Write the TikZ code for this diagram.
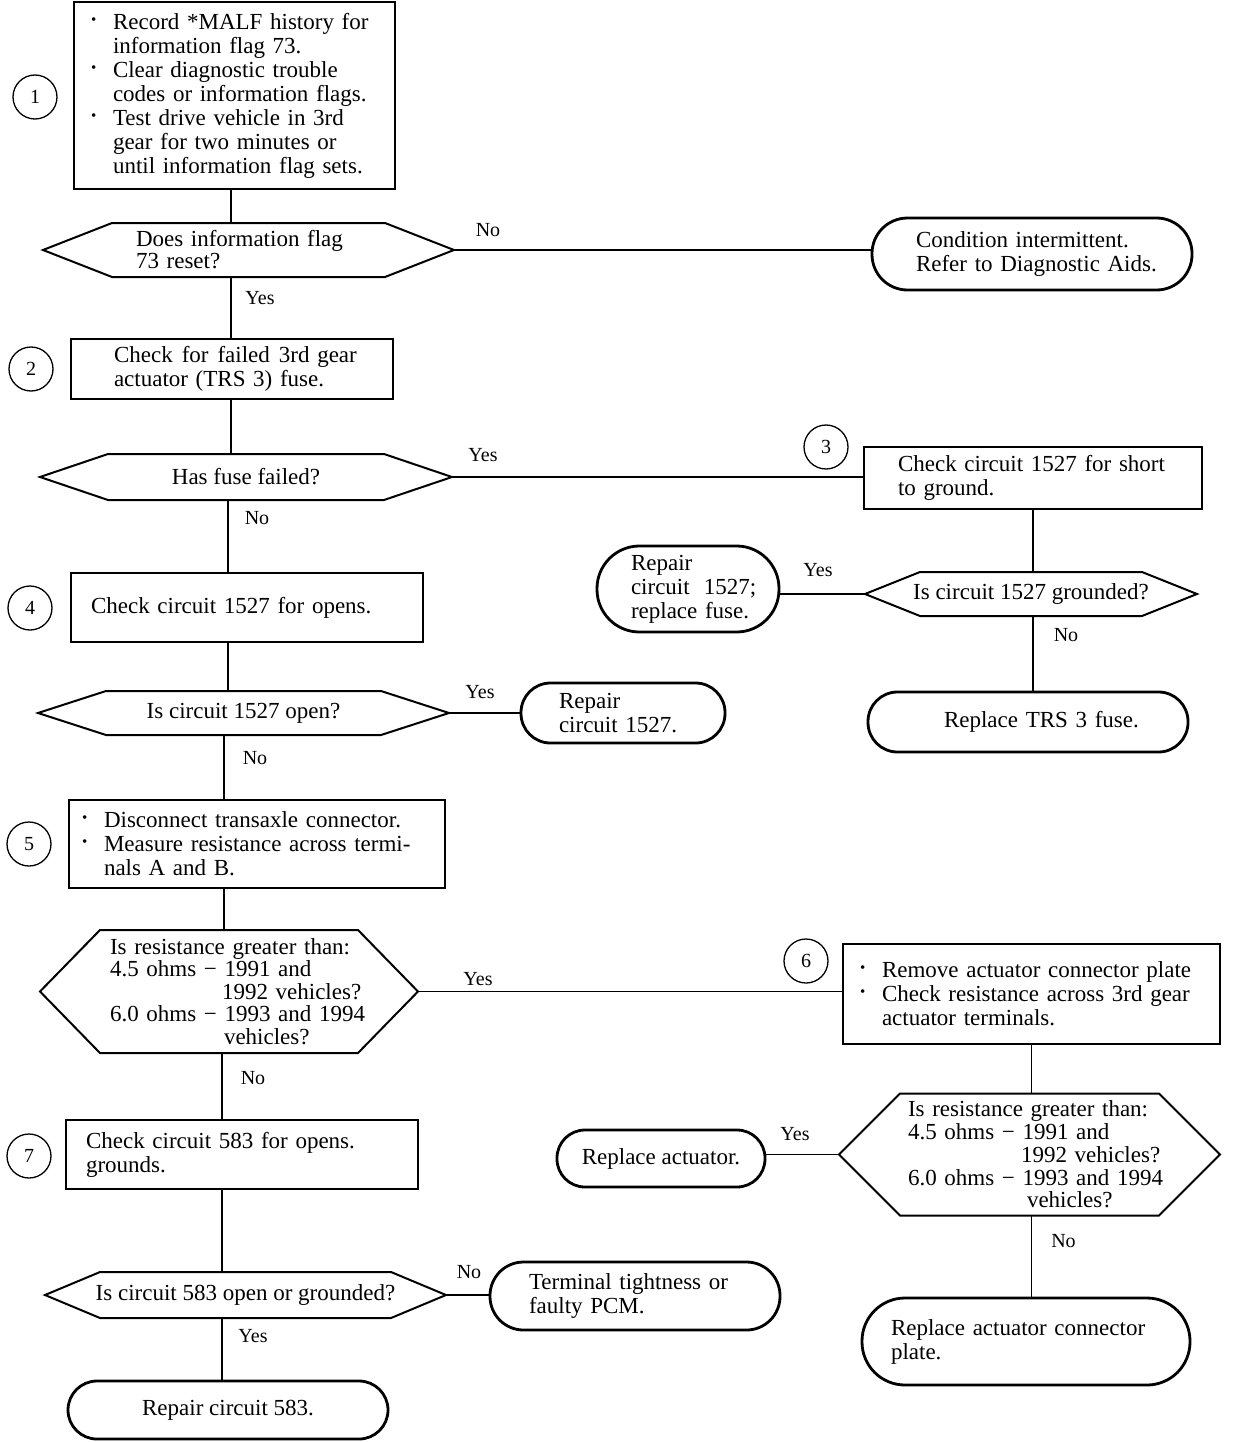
\documentclass[tikz,border=0pt]{standalone}
\usepackage{fontspec}
\setmainfont{Liberation Serif}

\tikzset{
  box/.style={draw, rectangle, line width=2.8pt, align=left, inner sep=0pt, outer sep=0pt},
  term/.style={draw, rectangle, rounded corners=#1, line width=2.8pt, align=left, inner sep=0pt, outer sep=0pt},
  dec/.style={rectangle, align=left, inner sep=0pt, outer sep=0pt},
  num/.style={draw, circle, line width=1.3pt, minimum size=44pt, inner sep=0pt, font=\fontsize{20}{20}\selectfont},
  lbl/.style={inner sep=0pt, font=\fontsize{20}{20}\selectfont},
  link/.style={line width=1.8pt},
  hexline/.style={line width=2pt, line join=miter},
}
\newcommand{\bul}{\makebox[22pt][l]{\raisebox{5pt}{\fontsize{15}{15}\selectfont\textbullet}}}

\begin{document}
\begin{tikzpicture}[x=1pt, y=-1pt, font=\fontsize{23}{24}\selectfont]
  \useasboundingbox (0,0) rectangle (1232,1442);

  % spine of the left column
  \coordinate (spA) at (231,0);
  \coordinate (spB) at (228,0);
  \coordinate (spC) at (224,0);
  \coordinate (spD) at (222,0);

  % step 1
  \node[num] (n1) at (35,97) {1};
  \node[box, minimum width=321, minimum height=187, text width=287] (s1) at (234.5,95.5)
    {\bul Record *MALF history for\\ \hspace*{22pt}information flag 73.\\
     \bul Clear diagnostic trouble\\ \hspace*{22pt}codes or information flags.\\
     \bul Test drive vehicle in 3rd\\ \hspace*{22pt}gear for two minutes or\\
     \hspace*{22pt}until information flag sets.};
  \node[dec, minimum width=411, minimum height=54, text width=225] (q1) at (248.5,250)
    {Does information flag\\[-2pt]73 reset?};
  \node[term=35.5, minimum width=320, minimum height=72, text width=232] (t1) at (1032,254)
    {Condition intermittent.\\\mbox{Refer to Diagnostic Aids.}};

  % step 2
  \node[num] (n2) at (31,369) {2};
  \node[box, minimum width=322, minimum height=60, text width=236] (s2) at (232,369)
    {\mbox{Check\hspace{9pt}for\hspace{9pt}failed\hspace{9pt}3rd gear}\\actuator (TRS 3) fuse.};
  \node[dec, minimum width=412, minimum height=46, align=center] (q2) at (246,477) {Has fuse failed?};

  % step 3
  \node[num] (n3) at (826,447) {3};
  \node[box, minimum width=338, minimum height=62, text width=270] (s3) at (1033,478)
    {Check circuit 1527 for short\\to ground.};
  \node[dec, minimum width=332, minimum height=44, align=center] (q3) at (1031,594) {Is circuit 1527 grounded?};
  \node[term=42.5, minimum width=182, minimum height=86, text width=114] (t3a) at (688,589)
    {Repair\\\mbox{circuit\hspace{14pt}1527;}\\\mbox{replace fuse.}};
  \node[term=29.5, minimum width=320, minimum height=60, text width=168] (t3b) at (1028,722)
    {\mbox{Replace TRS 3 fuse.}};

  % step 4
  \node[num] (n4) at (30,608) {4};
  \node[box, minimum width=352, minimum height=69, text width=312] (s4) at (247,607.5)
    {Check circuit 1527 for opens.};
  \node[dec, minimum width=411, minimum height=44, align=center] (q4) at (243.5,713) {Is circuit 1527 open?};
  \node[term=29.5, minimum width=204, minimum height=60, text width=128] (t4) at (623,713)
    {Repair\\circuit 1527.};

  % step 5
  \node[num] (n5) at (29,844) {5};
  \node[box, minimum width=376, minimum height=88, text width=350] (s5) at (257,844)
    {\bul Disconnect transaxle connector.\\
     \bul Measure resistance across termi-\\ \hspace*{22pt}nals A and B.};
  \node[dec, minimum width=378, minimum height=123, text width=238, font=\fontsize{23}{22.5}\selectfont] (q5) at (229,991.5)
    {\mbox{Is resistance greater than:}\\ 4.5 ohms − 1991 and\\ \mbox{\hspace*{112pt}1992 vehicles?}\\
     \mbox{6.0 ohms − 1993 and 1994}\\ \mbox{\hspace*{114pt}vehicles?}};

  % step 6
  \node[num] (n6) at (806,961) {6};
  \node[box, minimum width=377, minimum height=100, text width=343] (s6) at (1031.5,994)
    {\bul Remove actuator connector plate\\
     \bul Check resistance across 3rd gear\\ \hspace*{22pt}actuator terminals.};
  \node[dec, minimum width=381, minimum height=122, text width=243, font=\fontsize{23}{22.75}\selectfont] (q6) at (1029.5,1154.5)
    {\mbox{Is resistance greater than:}\\ 4.5 ohms − 1991 and\\ \mbox{\hspace*{113pt}1992 vehicles?}\\
     \mbox{6.0 ohms − 1993 and 1994}\\ \mbox{\hspace*{119pt}vehicles?}};
  \node[term=28, minimum width=208, minimum height=57, align=center] (t6a) at (661,1158.5) {Replace actuator.};
  \node[term=43, minimum width=328, minimum height=87, text width=270] (t6b) at (1026,1341.5)
    {Replace actuator connector\\plate.};

  % step 7
  \node[num] (n7) at (29,1156) {7};
  \node[box, minimum width=352, minimum height=69, text width=312] (s7) at (242,1154.5)
    {Check circuit 583 for opens.\\grounds.};
  \node[dec, minimum width=401, minimum height=46, align=center] (q7) at (245.5,1295) {Is circuit 583 open or grounded?};
  \node[term=33.5, minimum width=290, minimum height=68, text width=212] (t7b) at (635,1296)
    {Terminal tightness or\\faulty PCM.};
  \node[term=29, minimum width=320, minimum height=58, align=center] (t7a) at (228,1410) {Repair circuit 583.};

  % decision outlines
  \foreach \q/\d in {q1/69, q2/68, q3/55, q4/68, q5/60, q6/61, q7/55}
    \draw[hexline] (\q.west) -- ([xshift=\d]\q.north west) -- ([xshift=-\d]\q.north east)
      -- (\q.east) -- ([xshift=-\d]\q.south east) -- ([xshift=\d]\q.south west) -- cycle;

  % left column
  \draw[link] (s1.south -| spA) -- (q1.north -| spA);
  \draw[link] (q1.south -| spA) -- node[lbl, pos=0, xshift=29, yshift=-21] {Yes} (s2.north -| spA);
  \draw[link] (s2.south -| spA) -- (q2.north -| spA);
  \draw[link] (q2.south -| spB) -- node[lbl, pos=0, xshift=29, yshift=-18] {No} (s4.north -| spB);
  \draw[link] (s4.south -| spB) -- (q4.north -| spB);
  \draw[link] (q4.south -| spC) -- node[lbl, pos=0, xshift=31, yshift=-23] {No} (s5.north -| spC);
  \draw[link] (s5.south -| spC) -- (q5.north -| spC);
  \draw[link] (q5.south -| spD) -- node[lbl, pos=0, xshift=31, yshift=-25] {No} (s7.north -| spD);
  \draw[link] (s7.south -| spD) -- (q7.north -| spD);
  \draw[link] (q7.south -| spD) -- node[lbl, pos=0, xshift=31, yshift=-18] {Yes} (t7a.north -| spD);

  % branches
  \draw[link] (q1.east) -- node[lbl, pos=0, xshift=34, yshift=20] {No} (q1.east -| t1.west);
  \draw[link] (q2.east) -- node[lbl, pos=0, xshift=31, yshift=22] {Yes} (q2.east -| s3.west);
  \draw[link] (s3.south) -- (s3.south |- q3.north);
  \draw[link] (q3.west) -- node[lbl, pos=0, xshift=-47, yshift=24] {Yes} (q3.west -| t3a.east);
  \draw[link] (q3.south -| s3.south) -- node[lbl, pos=0, xshift=33, yshift=-19] {No} (t3b.north -| s3.south);
  \draw[link] (q4.east) -- node[lbl, pos=0, xshift=31, yshift=21] {Yes} (q4.east -| t4.west);
  \draw[link] (q5.east) -- node[lbl, pos=0, xshift=60, yshift=12] {Yes} (q5.east -| s6.west);
  \draw[link] (s6.south) -- (s6.south |- q6.north);
  \draw[link] (q6.west) -- node[lbl, pos=0, xshift=-44, yshift=20] {Yes} (q6.west -| t6a.east);
  \draw[link] (q6.south -| s6.south) -- node[lbl, pos=0, xshift=32, yshift=-26] {No} (t6b.north -| s6.south);
  \draw[link] (q7.east) -- node[lbl, pos=0, xshift=23, yshift=23] {No} (q7.east -| t7b.west);
\end{tikzpicture}
\end{document}
